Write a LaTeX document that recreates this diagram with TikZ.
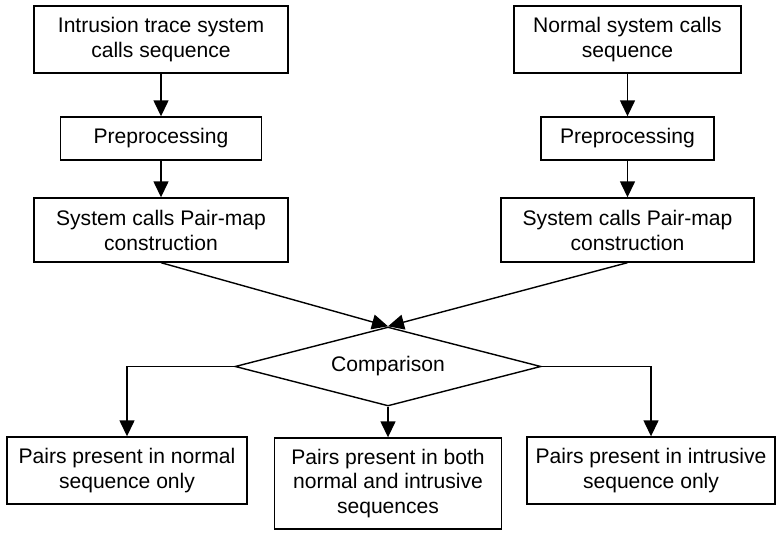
\documentclass[tikz,border=0pt]{standalone}
\usepackage{fontspec}
\setmainfont{Liberation Sans}
\usetikzlibrary{shapes.geometric,arrows.meta}

\begin{document}
\begin{tikzpicture}[
	x=0.02cm, y=-0.02cm,
	line width=0.8pt,
	every node/.style={font=\fontsize{12}{14.2}\selectfont},
	stage/.style={draw, inner sep=2pt, minimum height=1.34cm, align=center},
	prep/.style={draw, inner sep=2pt, minimum height=0.86cm, align=center},
	decide/.style={draw, diamond, inner sep=0pt, aspect=3.87, minimum width=6.12cm, minimum height=1.58cm},
	flow/.style={-{Triangle[length=0.32cm, width=0.3cm]}}
]
\useasboundingbox (0,0) rectangle (776,533);

% left branch: intrusion trace
\node[stage, minimum width=5.08cm] (intr) at (161,39.5) {Intrusion trace system\\calls sequence};
\node[prep, minimum width=4.02cm] (prepL) at (161,138.5) {Preprocessing};
\node[stage, minimum width=5.08cm, minimum height=1.28cm] (pairL) at (161,230) {System calls Pair-map\\construction};

% right branch: normal trace
\node[stage, minimum width=4.54cm] (norm) at (627.5,39.5) {Normal system calls\\sequence};
\node[prep, minimum width=3.46cm] (prepR) at (627.5,138.5) {Preprocessing};
\node[stage, minimum width=5.06cm, minimum height=1.28cm] (pairR) at (627.5,230) {System calls Pair-map\\construction};

% comparison and results
\node[decide] (cmp) at (388,366.5) {Comparison};
\node[stage, minimum width=4.8cm] (onlyN) at (127,470.5) {Pairs present in normal\\sequence only};
\node[stage, minimum width=4.54cm, minimum height=1.82cm] (both) at (388,483.5) {Pairs present in both\\normal and intrusive\\sequences};
\node[stage, minimum width=4.96cm] (onlyI) at (651,470.5) {Pairs present in intrusive\\sequence only};

\draw[flow] (intr) -- (prepL);
\draw[flow] (prepL) -- (pairL);
\draw[flow] (norm) -- (prepR);
\draw[flow] (prepR) -- (pairR);
\draw[flow] (pairL.south) -- (cmp.north);
\draw[flow] (pairR.south) -- (cmp.north);
\draw[flow] (cmp.west) -| (onlyN.north);
\draw[flow] (cmp.south) -- (both.north);
\draw[flow] (cmp.east) -| (onlyI.north);
\end{tikzpicture}
\end{document}
